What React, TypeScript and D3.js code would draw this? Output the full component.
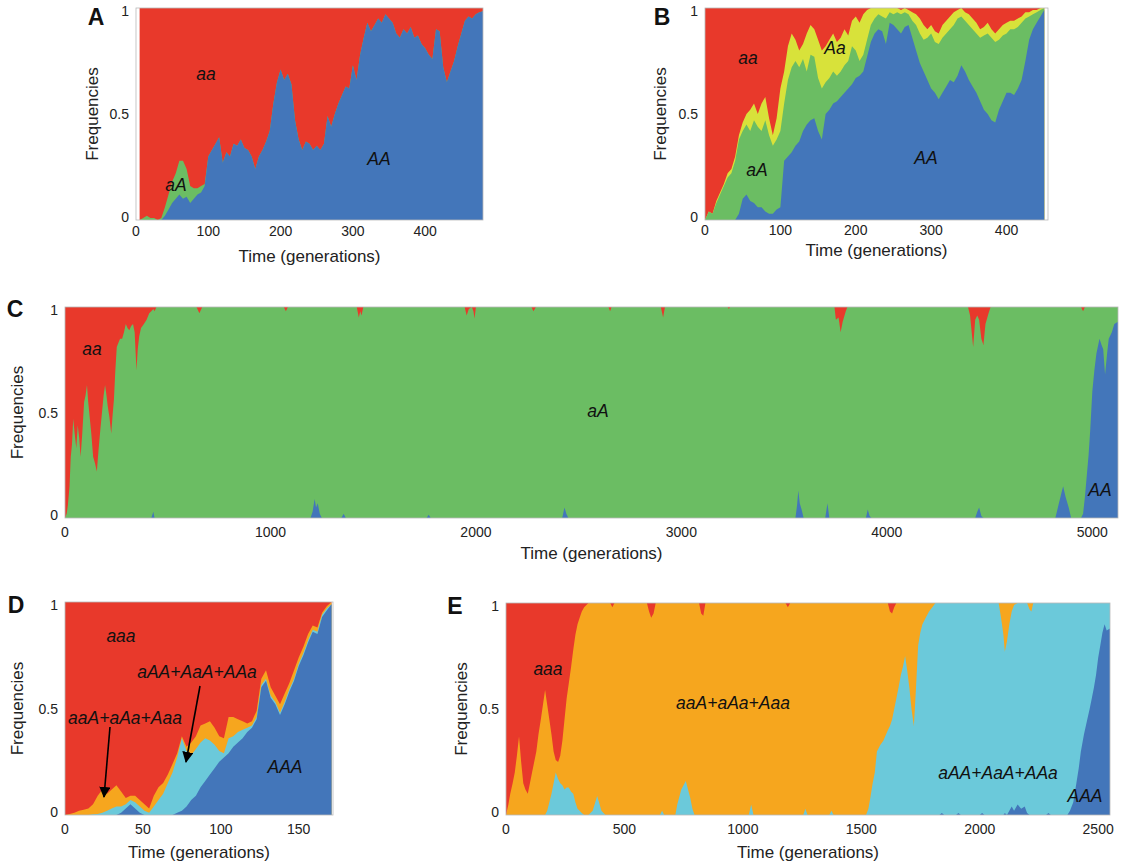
import React from "react";
import * as d3 from "d3";

const FONT = "'Liberation Sans', Arial, Helvetica, sans-serif";
const RED = "#E8392B";
const BLUE = "#4376BA";
const GREEN = "#6BBD63";
const YELLOW = "#D8E23A";
const ORANGE = "#F6A61E";
const CYAN = "#6BC9DA";

// ---------- Panel A (AA, aA; aa is remainder) ----------
const A_times = d3.range(5, 481, 5);
const A_AA = [
  0, 0, 0, 0, 0, 0, 0, 0.02, 0.05, 0.08,
  0.1, 0.12, 0.1, 0.11, 0.08, 0.1, 0.12, 0.13, 0.16, 0.3,
  0.33, 0.36, 0.39, 0.27, 0.32, 0.3, 0.36, 0.35, 0.38, 0.34,
  0.33, 0.3, 0.24, 0.3, 0.33, 0.37, 0.42, 0.55, 0.65, 0.71,
  0.66, 0.69, 0.64, 0.47, 0.38, 0.33, 0.37, 0.36, 0.33, 0.35,
  0.33, 0.36, 0.49, 0.44, 0.5, 0.55, 0.59, 0.63, 0.62, 0.73,
  0.66, 0.78, 0.86, 0.93, 0.89, 0.92, 0.95, 0.93, 0.97, 0.95,
  0.93, 0.88, 0.86, 0.9, 0.88, 0.91, 0.86, 0.87, 0.83, 0.81,
  0.78, 0.76, 0.9, 0.89, 0.72, 0.65, 0.7, 0.75, 0.82, 0.88,
  0.94, 0.96, 0.95, 0.97, 0.98, 0.985,
];
const A_aA = [
  0, 0.01, 0.02, 0.01, 0.01, 0, 0.01, 0.04, 0.07, 0.1,
  0.12, 0.16, 0.18, 0.13, 0.08, 0.05, 0.03, 0.03, 0.01, 0,
  0, 0, 0, 0, 0, 0, 0, 0, 0, 0,
  0, 0, 0, 0, 0, 0, 0, 0, 0, 0,
  0, 0, 0, 0, 0, 0, 0, 0, 0, 0,
  0, 0, 0, 0, 0, 0, 0, 0, 0, 0,
  0, 0, 0, 0, 0, 0, 0, 0, 0, 0,
  0, 0, 0, 0, 0, 0, 0, 0, 0, 0,
  0, 0, 0, 0, 0, 0, 0, 0, 0, 0,
  0, 0, 0, 0, 0, 0,
];

// ---------- Panel B (AA, aA, Aa; aa is remainder) ----------
const B_times = d3.range(0, 451, 5);
const B_AA = [
  0, 0, 0, 0, 0, 0, 0, 0, 0, 0.03,
  0.1, 0.12, 0.09, 0.08, 0.06, 0.06, 0.04, 0.03, 0.03, 0.05,
  0.06, 0.28, 0.3, 0.32, 0.35, 0.37, 0.42, 0.45, 0.47, 0.48,
  0.42, 0.38, 0.5, 0.52, 0.55, 0.56, 0.58, 0.6, 0.62, 0.64,
  0.67, 0.68, 0.7, 0.77, 0.84, 0.88, 0.9, 0.89, 0.83, 0.93,
  0.92, 0.9, 0.88, 0.91, 0.92, 0.86, 0.8, 0.74, 0.7, 0.66,
  0.62, 0.6, 0.57, 0.6, 0.63, 0.66, 0.65, 0.68, 0.73, 0.7,
  0.66, 0.63, 0.6, 0.56, 0.52, 0.5, 0.47, 0.46, 0.52, 0.56,
  0.6, 0.6, 0.59, 0.62, 0.66, 0.75, 0.85, 0.9, 0.93, 0.96,
  0.99,
];
const B_aA = [
  0, 0.04, 0.03, 0.08, 0.12, 0.16, 0.2, 0.22, 0.28, 0.35,
  0.32, 0.33, 0.33, 0.39, 0.38, 0.36, 0.43, 0.37, 0.32, 0.33,
  0.36, 0.27, 0.36, 0.4, 0.4, 0.35, 0.34, 0.25, 0.31, 0.29,
  0.25, 0.24, 0.15, 0.15, 0.15, 0.12, 0.12, 0.13, 0.13, 0.18,
  0.13, 0.07, 0.08, 0.08, 0.08, 0.07, 0.07, 0.07, 0.12, 0.05,
  0.05, 0.08, 0.09, 0.07, 0.05, 0.08, 0.12, 0.14, 0.15, 0.2,
  0.26, 0.24, 0.26, 0.26, 0.25, 0.24, 0.27, 0.27, 0.23, 0.24,
  0.26, 0.27, 0.28, 0.3, 0.35, 0.38, 0.39, 0.38, 0.33, 0.31,
  0.28, 0.3, 0.31, 0.29, 0.27, 0.2, 0.11, 0.07, 0.05, 0.03,
  0.01,
];
const B_Aa = [
  0, 0, 0, 0.01, 0.01, 0.01, 0.02, 0.02, 0.02, 0.02,
  0.04, 0.05, 0.1, 0.08, 0.06, 0.13, 0.11, 0.08, 0.05, 0.1,
  0.2, 0.15, 0.16, 0.16, 0.1, 0.08, 0.07, 0.18, 0.14, 0.13,
  0.18, 0.18, 0.17, 0.18, 0.18, 0.16, 0.16, 0.17, 0.12, 0.12,
  0.16, 0.18, 0.19, 0.14, 0.08, 0.05, 0.03, 0.04, 0.05, 0.02,
  0.03, 0.02, 0.02, 0.02, 0.02, 0.04, 0.05, 0.07, 0.07, 0.04,
  0.04, 0.05, 0.05, 0.06, 0.06, 0.06, 0.06, 0.04, 0.04, 0.04,
  0.05, 0.05, 0.05, 0.04, 0.04, 0.05, 0.04, 0.04, 0.05, 0.05,
  0.05, 0.04, 0.04, 0.04, 0.03, 0.03, 0.02, 0.02, 0.01, 0.01,
  0,
];

// ---------- Panel C (AA, aA is remainder, aa) ----------
const C_times = [
  0, 8, 14, 22, 28, 34, 40, 47, 55, 62,
  69, 76, 84, 93, 100, 107, 113, 120, 128, 137,
  146, 155, 163, 172, 180, 188, 195, 202, 208, 216,
  225, 231, 238, 245, 252, 260, 268, 278, 287, 296,
  304, 313, 322, 331, 339, 348, 354, 361, 370, 384,
  397, 410, 420, 430, 436, 445,
  640, 654, 668, 1065, 1075, 1085,
  1195, 1205, 1215, 1222, 1230, 1240, 1250,
  1345, 1356, 1367, 1420, 1430, 1437, 1443, 1452,
  1760, 1770, 1780, 1945, 1955, 1965, 1980, 1988, 1993, 2000,
  2270, 2280, 2292, 2420, 2431, 2440, 2450,
  2645, 2653, 2660, 2900, 2911, 2920, 3225, 3231, 3237,
  3555, 3563, 3569, 3576, 3585, 3595, 3700, 3711, 3720,
  3745, 3752, 3765, 3775, 3785, 3800, 3808,
  3898, 3907, 3916, 3925,
  4395, 4405, 4420, 4430, 4440, 4449, 4460, 4470, 4480, 4495, 4505,
  4820, 4835, 4850, 4858, 4870, 4885, 4897,
  4945, 4955, 4964, 4973, 4982, 4990, 5000, 5010, 5020, 5035, 5045, 5053, 5062, 5072, 5080, 5095, 5107, 5125,
];
const C_AA = [
  0, 0, 0, 0, 0, 0, 0, 0, 0, 0,
  0, 0, 0, 0, 0, 0, 0, 0, 0, 0,
  0, 0, 0, 0, 0, 0, 0, 0, 0, 0,
  0, 0, 0, 0, 0, 0, 0, 0, 0, 0,
  0, 0, 0, 0, 0, 0, 0, 0, 0, 0,
  0, 0, 0, 0.03, 0, 0,
  0, 0, 0, 0, 0, 0,
  0, 0.03, 0.09, 0.05, 0.07, 0.02, 0,
  0, 0.02, 0, 0, 0, 0, 0, 0,
  0, 0.015, 0, 0, 0, 0, 0, 0, 0, 0,
  0, 0, 0, 0, 0.05, 0.02, 0,
  0, 0, 0, 0, 0, 0, 0, 0, 0,
  0, 0.06, 0.13, 0.07, 0.04, 0, 0, 0.07, 0,
  0, 0, 0, 0, 0, 0, 0,
  0, 0.04, 0.01, 0,
  0, 0, 0, 0, 0.03, 0.05, 0.01, 0, 0, 0, 0,
  0, 0.06, 0.12, 0.15, 0.1, 0.05, 0,
  0, 0.02, 0.1, 0.2, 0.3, 0.42, 0.6, 0.7, 0.78, 0.85, 0.82, 0.8, 0.68, 0.78, 0.85, 0.88, 0.92, 0.93,
];
const C_aa = [
  1, 0.98, 0.94, 0.85, 0.71, 0.65, 0.53, 0.6, 0.67, 0.56,
  0.62, 0.71, 0.6, 0.45, 0.42, 0.37, 0.45, 0.52, 0.6, 0.71,
  0.74, 0.78, 0.68, 0.58, 0.5, 0.42, 0.37, 0.42, 0.47, 0.52,
  0.6, 0.52, 0.44, 0.3, 0.19, 0.17, 0.15, 0.15, 0.12, 0.08,
  0.1, 0.11, 0.09, 0.08, 0.12, 0.3, 0.2, 0.14, 0.1, 0.08,
  0.06, 0.03, 0.02, 0.01, 0.02, 0,
  0, 0.03, 0, 0, 0.02, 0,
  0, 0, 0, 0, 0, 0, 0,
  0, 0, 0, 0, 0.05, 0.02, 0.04, 0,
  0, 0, 0, 0, 0.04, 0.01, 0, 0.02, 0.055, 0,
  0, 0.02, 0, 0, 0, 0, 0,
  0, 0.02, 0, 0, 0.05, 0, 0, 0.01, 0,
  0, 0, 0, 0, 0, 0, 0, 0, 0,
  0, 0.06, 0.05, 0.12, 0.07, 0.02, 0,
  0, 0, 0, 0,
  0, 0.04, 0.19, 0.06, 0.04, 0.06, 0.15, 0.18, 0.08, 0.03, 0,
  0, 0, 0, 0, 0, 0, 0,
  0, 0.02, 0, 0, 0, 0, 0, 0, 0, 0, 0, 0, 0, 0, 0, 0, 0, 0,
];

// ---------- Panel D (AAA, aAA+AaA+AAa, aaA+aAa+Aaa; aaa remainder) ----------
const D_times = d3.range(0, 172, 3);
const D_AAA = [
  0, 0, 0, 0, 0, 0, 0, 0, 0, 0, 0, 0,
  0.01, 0.03, 0.05, 0.03, 0.01,
  0, 0, 0, 0, 0, 0, 0,
  0.01, 0.02, 0.04, 0.07, 0.09, 0.13, 0.16, 0.19, 0.22, 0.25,
  0.27, 0.29, 0.32, 0.34, 0.36, 0.39, 0.41, 0.45, 0.6, 0.63,
  0.55, 0.52, 0.47, 0.52, 0.58, 0.63, 0.7, 0.75, 0.81, 0.86,
  0.85, 0.93, 0.96, 0.99,
];
const D_AAx = [
  0, 0, 0, 0, 0, 0,
  0.003, 0.005, 0.01, 0.02, 0.03, 0.04, 0.03, 0.02, 0.02, 0.03,
  0.03, 0.02, 0.01, 0.04, 0.07, 0.1, 0.15, 0.2, 0.26, 0.34,
  0.26, 0.21, 0.22, 0.21, 0.2, 0.16, 0.11, 0.05, 0.02, 0.07,
  0.05, 0.05, 0.04, 0.02, 0.01,
  0.01, 0.01, 0.01, 0.01, 0.01, 0.01, 0.01, 0.01, 0.01, 0.01,
  0.01, 0.01, 0.01, 0.01, 0.01, 0.01,
  0,
];
const D_aax = [
  0, 0.005, 0.01, 0.02, 0.025, 0.03, 0.047, 0.085, 0.11, 0.08,
  0.09, 0.1, 0.07, 0.03, 0.02, 0.03, 0.03, 0.03, 0.02, 0.05,
  0.06, 0.05, 0.04, 0.04, 0.02, 0.01, 0.02, 0.06, 0.06, 0.08,
  0.07, 0.09, 0.08, 0.07, 0.07, 0.1, 0.09, 0.06, 0.04, 0.02,
  0.02, 0.03, 0.03, 0.04, 0.04, 0.03, 0.04, 0.04, 0.03, 0.04,
  0.03, 0.03, 0.03, 0.02, 0.02, 0.01, 0.01, 0.01,
];

// ---------- Panel E (AAA, aAA+AaA+AAa, aaA+aAa+Aaa remainder, aaa) ----------
const E_times = [
  0, 10, 18, 28, 37, 46, 55, 64, 73, 82,
  92, 101, 110, 119, 128, 137, 147, 156, 165, 174,
  183, 192, 201, 210, 220, 229, 238, 247, 256, 265,
  275, 284, 293, 302, 311, 320, 330, 348, 366, 385,
  403, 420, 440, 449, 458, 595, 604, 613, 623, 632,
  650, 659, 668, 715, 723, 740, 759, 778, 787, 796,
  815, 824, 833, 842, 1025, 1035, 1045, 1180, 1190, 1200,
  1255, 1264, 1273, 1365, 1374, 1383, 1520, 1530, 1538, 1548,
  1557, 1566, 1580, 1593, 1612, 1621, 1630, 1639, 1648, 1657,
  1667, 1676, 1685, 1694, 1703, 1712, 1722, 1731, 1740, 1749,
  1758, 1772, 1786, 1800, 1813, 1830, 1840, 1850, 1900, 1910,
  1920, 2000, 2010, 2020, 2080, 2090, 2100, 2106, 2115, 2125,
  2135, 2145, 2160, 2175, 2190, 2200, 2210, 2218, 2226, 2280,
  2290, 2300, 2370, 2381, 2395, 2408, 2418, 2427, 2440, 2454,
  2464, 2473, 2482, 2491, 2500, 2509, 2518, 2527, 2536, 2550,
];
const E_AAA = [
  0, 0, 0, 0, 0, 0, 0, 0, 0, 0,
  0, 0, 0, 0, 0, 0, 0, 0, 0, 0,
  0, 0, 0, 0, 0, 0, 0, 0, 0, 0,
  0, 0, 0, 0, 0, 0, 0, 0, 0, 0,
  0, 0, 0, 0, 0, 0, 0, 0, 0, 0,
  0, 0, 0, 0, 0, 0, 0, 0, 0, 0,
  0, 0, 0, 0, 0, 0, 0, 0, 0, 0,
  0, 0, 0, 0, 0, 0, 0, 0, 0, 0,
  0, 0, 0, 0, 0, 0, 0, 0, 0, 0,
  0, 0, 0, 0, 0, 0, 0, 0, 0, 0,
  0, 0, 0, 0, 0, 0, 0.01, 0, 0, 0.01,
  0, 0, 0.01, 0, 0, 0, 0, 0.01, 0, 0.02,
  0.04, 0.02, 0.05, 0.03, 0.04, 0.01, 0, 0, 0, 0,
  0.01, 0, 0, 0.02, 0.06, 0.15, 0.22, 0.3, 0.38, 0.45,
  0.5, 0.55, 0.6, 0.66, 0.74, 0.8, 0.86, 0.9, 0.87, 0.88,
];
const E_AAx = [
  0, 0, 0, 0, 0, 0, 0, 0, 0, 0,
  0, 0, 0, 0, 0, 0, 0, 0, 0, 0.02,
  0.06, 0.1, 0.15, 0.2, 0.17, 0.15, 0.14, 0.12, 0.13, 0.13,
  0.11, 0.1, 0.06, 0.03, 0.02, 0.01, 0, 0, 0.02, 0.09,
  0.02, 0, 0, 0, 0, 0, 0, 0, 0, 0,
  0, 0.02, 0, 0, 0.05, 0.12, 0.16, 0.08, 0.03, 0,
  0, 0, 0, 0, 0, 0.05, 0, 0, 0, 0,
  0, 0.03, 0, 0, 0.02, 0, 0, 0.03, 0.08, 0.15,
  0.2, 0.3, 0.33, 0.35, 0.4, 0.42, 0.45, 0.5, 0.55, 0.6,
  0.66, 0.7, 0.75, 0.68, 0.6, 0.5, 0.42, 0.6, 0.8, 0.86,
  0.9, 0.93, 0.96, 0.98, 1, 1, 0.99, 1, 1, 0.99,
  1, 1, 0.99, 1, 1, 0.93, 0.85, 0.76, 0.82, 0.88,
  0.92, 0.97, 0.95, 0.97, 0.96, 0.99, 0.97, 0.96, 1, 1,
  0.99, 1, 1, 0.98, 0.94, 0.85, 0.78, 0.7, 0.62, 0.55,
  0.5, 0.45, 0.4, 0.34, 0.26, 0.2, 0.14, 0.1, 0.13, 0.12,
];
const E_aaa = [
  1, 0.95, 0.9, 0.85, 0.8, 0.72, 0.63, 0.75, 0.85, 0.88,
  0.9, 0.85, 0.8, 0.75, 0.7, 0.62, 0.55, 0.48, 0.41, 0.48,
  0.55, 0.62, 0.7, 0.74, 0.75, 0.72, 0.65, 0.55, 0.45, 0.38,
  0.3, 0.22, 0.15, 0.1, 0.07, 0.04, 0.02, 0, 0, 0,
  0, 0, 0, 0.02, 0, 0, 0.04, 0.07, 0.05, 0,
  0, 0, 0, 0, 0, 0, 0, 0, 0, 0,
  0, 0.05, 0.06, 0, 0, 0, 0, 0, 0.02, 0,
  0, 0, 0, 0, 0, 0, 0, 0, 0, 0,
  0, 0, 0, 0, 0, 0.04, 0.05, 0.02, 0, 0,
  0, 0, 0, 0, 0, 0, 0, 0, 0, 0,
  0, 0, 0, 0, 0, 0, 0, 0, 0, 0,
  0, 0, 0, 0, 0, 0, 0, 0, 0, 0,
  0, 0, 0, 0, 0, 0, 0, 0, 0, 0,
  0, 0, 0, 0, 0, 0, 0, 0, 0, 0,
  0, 0, 0, 0, 0, 0, 0, 0, 0, 0,
];

const Y_TICKS = [0, 0.5, 1];
const Y_TICK_LABELS = ["0", "0.5", "1"];

type Layer = { values: number[] | null; color: string }; // null = remainder

type Label = { text: string; x: number; y: number };

type PanelProps = {
  id: string;
  box: { left: number; right: number; top: number; bottom: number };
  domain: [number, number];
  xTicks: number[];
  times: number[];
  layers: Layer[]; // bottom to top
  letter: { text: string; x: number; y: number };
  yTitleX: number;
  xTitleY: number;
  tickY: number;
  labels: Label[];
};

function Panel(p: PanelProps) {
  const { box } = p;
  const x = d3.scaleLinear().domain(p.domain).range([box.left, box.right]);
  const y = d3.scaleLinear().domain([0, 1]).range([box.bottom, box.top]);
  const keys = p.layers.map((_, i) => "k" + i);
  const rows = p.times.map((t, j) => {
    const r: any = { t };
    const known = p.layers.reduce((s, l) => s + (l.values ? Math.max(0, l.values[j] ?? 0) : 0), 0);
    const scale = known > 1 ? 1 / known : 1;
    p.layers.forEach((l, i) => {
      r["k" + i] = l.values ? Math.max(0, l.values[j] ?? 0) * scale : Math.max(0, 1 - known);
    });
    return r;
  });
  const stacked = d3.stack<any>().keys(keys)(rows);
  // Draw each layer from 0 to its cumulative top, top-most first: no seams.
  const area = d3
    .area<any>()
    .x((d) => x(d.data.t))
    .y0(() => y(0))
    .y1((d) => y(d[1]));
  const order = stacked.map((s, i) => i).reverse();
  const midY = (box.top + box.bottom) / 2;
  const midX = (box.left + box.right) / 2;
  return (
    <g>
      <defs>
        <clipPath id={"clip-" + p.id}>
          <rect x={box.left} y={box.top} width={box.right - box.left} height={box.bottom - box.top} />
        </clipPath>
      </defs>
      <g clipPath={`url(#clip-${p.id})`}>
        {order.map((i) => (
          <path key={i} d={area(stacked[i] as any) || ""} fill={p.layers[i].color} />
        ))}
      </g>
      <rect
        x={box.left}
        y={box.top}
        width={box.right - box.left}
        height={box.bottom - box.top}
        fill="none"
        stroke="#b8b8b8"
        strokeWidth={0.8}
      />
      {Y_TICKS.map((v, i) => (
        <text
          key={"yt" + i}
          x={box.left - 7}
          y={v === 1 ? box.top + 3 : v === 0 ? box.bottom - 3 : y(v)}
          textAnchor="end"
          dominantBaseline="central"
          fontSize={14}
          fill="#222"
        >
          {Y_TICK_LABELS[i]}
        </text>
      ))}
      {p.xTicks.map((v) => (
        <text key={"xt" + v} x={x(v)} y={p.tickY} textAnchor="middle" dominantBaseline="central" fontSize={14} fill="#222">
          {v}
        </text>
      ))}
      <text
        transform={`translate(${p.yTitleX},${midY}) rotate(-90)`}
        textAnchor="middle"
        dominantBaseline="central"
        fontSize={17}
        fill="#222"
      >
        Frequencies
      </text>
      <text x={midX} y={p.xTitleY} textAnchor="middle" dominantBaseline="central" fontSize={17} fill="#222">
        Time (generations)
      </text>
      <text x={p.letter.x} y={p.letter.y} textAnchor="middle" dominantBaseline="central" fontSize={23} fontWeight="bold" fill="#111">
        {p.letter.text}
      </text>
      {p.labels.map((l, i) => (
        <text key={"lb" + i} x={l.x} y={l.y} textAnchor="middle" dominantBaseline="central" fontSize={17.5} fontStyle="italic" fill="#111">
          {l.text}
        </text>
      ))}
    </g>
  );
}

export default function App() {
  return (
    <svg
      width={1124}
      height={866}
      viewBox="0 0 1124 866"
      style={{ position: "absolute", left: 0, top: 0, background: "#fff", fontFamily: FONT }}
    >
      <defs>
        <marker id="arrowhead" viewBox="0 0 10 10" refX={9} refY={5} markerWidth={7} markerHeight={7} orient="auto">
          <path d="M0,0 L10,5 L0,10 z" fill="#000" />
        </marker>
      </defs>
      <Panel
        id="A"
        box={{ left: 136, right: 483, top: 8, bottom: 220 }}
        domain={[0, 480]}
        xTicks={[0, 100, 200, 300, 400]}
        times={A_times}
        layers={[
          { values: A_AA, color: BLUE },
          { values: A_aA, color: GREEN },
          { values: null, color: RED },
        ]}
        letter={{ text: "A", x: 96, y: 17 }}
        yTitleX={92}
        xTitleY={256}
        tickY={231}
        labels={[
          { text: "aa", x: 206, y: 74 },
          { text: "aA", x: 176, y: 185 },
          { text: "AA", x: 379, y: 159 },
        ]}
      />
      <Panel
        id="B"
        box={{ left: 705, right: 1048, top: 8, bottom: 220 }}
        domain={[0, 455]}
        xTicks={[0, 100, 200, 300, 400]}
        times={B_times}
        layers={[
          { values: B_AA, color: BLUE },
          { values: B_aA, color: GREEN },
          { values: B_Aa, color: YELLOW },
          { values: null, color: RED },
        ]}
        letter={{ text: "B", x: 662, y: 17 }}
        yTitleX={660}
        xTitleY={250}
        tickY={230}
        labels={[
          { text: "aa", x: 748, y: 58 },
          { text: "Aa", x: 835, y: 48 },
          { text: "aA", x: 757, y: 170 },
          { text: "AA", x: 926, y: 158 },
        ]}
      />
      <Panel
        id="C"
        box={{ left: 65, right: 1118, top: 307, bottom: 518 }}
        domain={[0, 5125]}
        xTicks={[0, 1000, 2000, 3000, 4000, 5000]}
        times={C_times}
        layers={[
          { values: C_AA, color: BLUE },
          { values: null, color: GREEN },
          { values: C_aa, color: RED },
        ]}
        letter={{ text: "C", x: 15, y: 309 }}
        yTitleX={17}
        xTitleY={553}
        tickY={532}
        labels={[
          { text: "aa", x: 92, y: 349 },
          { text: "aA", x: 598, y: 411 },
          { text: "AA", x: 1100, y: 490 },
        ]}
      />
      <Panel
        id="D"
        box={{ left: 65, right: 333, top: 602, bottom: 815 }}
        domain={[0, 172]}
        xTicks={[0, 50, 100, 150]}
        times={D_times}
        layers={[
          { values: D_AAA, color: BLUE },
          { values: D_AAx, color: CYAN },
          { values: D_aax, color: ORANGE },
          { values: null, color: RED },
        ]}
        letter={{ text: "D", x: 16, y: 605 }}
        yTitleX={17}
        xTitleY={852}
        tickY={829}
        labels={[
          { text: "aaa", x: 121, y: 636 },
          { text: "aAA+AaA+AAa", x: 197, y: 672 },
          { text: "aaA+aAa+Aaa", x: 125, y: 718 },
          { text: "AAA", x: 285, y: 767 },
        ]}
      />
      <line x1={110} y1={727} x2={104} y2={797} stroke="#000" strokeWidth={1.6} markerEnd="url(#arrowhead)" />
      <line x1={200} y1={686} x2={186} y2={762} stroke="#000" strokeWidth={1.6} markerEnd="url(#arrowhead)" />
      <Panel
        id="E"
        box={{ left: 506, right: 1110, top: 603, bottom: 815 }}
        domain={[0, 2550]}
        xTicks={[0, 500, 1000, 1500, 2000, 2500]}
        times={E_times}
        layers={[
          { values: E_AAA, color: BLUE },
          { values: E_AAx, color: CYAN },
          { values: null, color: ORANGE },
          { values: E_aaa, color: RED },
        ]}
        letter={{ text: "E", x: 455, y: 606 }}
        yTitleX={461}
        xTitleY={852}
        tickY={829}
        labels={[
          { text: "aaa", x: 548, y: 669 },
          { text: "aaA+aAa+Aaa", x: 733, y: 703 },
          { text: "aAA+AaA+AAa", x: 998, y: 773 },
          { text: "AAA", x: 1085, y: 796 },
        ]}
      />
    </svg>
  );
}
